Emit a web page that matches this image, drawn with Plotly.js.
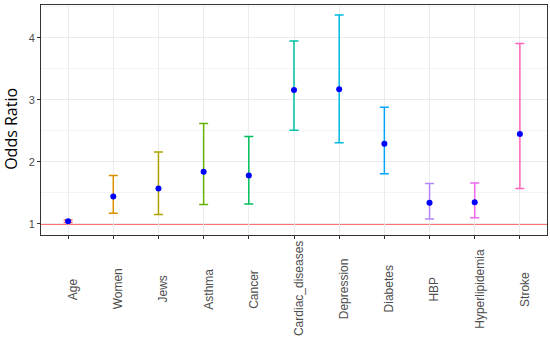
<!DOCTYPE html>
<html>
<head>
<meta charset="utf-8">
<script src="https://cdn.plot.ly/plotly-3.0.1.min.js"></script>
<style>html,body{margin:0;padding:0;background:#fff;}#chart{width:550px;height:340px;}</style>
</head>
<body>
<div id="chart"></div>
<script>
const categories = ["Age","Women","Jews","Asthma","Cancer","Cardiac_diseases","Depression","Diabetes","HBP","Hyperlipidemia","Stroke"];
const oddsRatio = [1.04, 1.44, 1.57, 1.84, 1.78, 3.16, 3.17, 2.29, 1.34, 1.35, 2.45];
const lowerCI  = [1.02, 1.17, 1.15, 1.31, 1.32, 2.51, 2.31, 1.81, 1.08, 1.10, 1.57];
const upperCI  = [1.06, 1.78, 2.16, 2.62, 2.41, 3.95, 4.37, 2.88, 1.65, 1.66, 3.91];
const yTicks = [1, 2, 3, 4];
const colors = ["#F8766D","#DB8E00","#AEA200","#64B200","#00BD5C","#00C1A7","#00BADE","#00A6FF","#B385FF","#EF67EB","#FF63B6"];

const traces = categories.map((c, i) => ({
  type: 'scatter', mode: 'markers',
  x: [c], y: [oddsRatio[i]],
  marker: {color: 'rgba(0,0,0,0)', size: 1},
  error_y: {type: 'data', symmetric: false,
    array: [upperCI[i] - oddsRatio[i]], arrayminus: [oddsRatio[i] - lowerCI[i]],
    color: colors[i], thickness: 1.5, width: 4.5},
  showlegend: false, hoverinfo: 'skip'
}));
traces.push({
  type: 'scatter', mode: 'markers', x: categories, y: oddsRatio,
  marker: {color: '#0000FF', size: 6}, showlegend: false
});

const annotations = categories.map(c => ({
  xref: 'x', x: c, yref: 'paper', y: -0.235,
  text: c, textangle: -90, showarrow: false,
  xanchor: 'center', yanchor: 'middle', xshift: 5,
  font: {size: 12, color: '#4D4D4D', family: 'Liberation Sans, Arial, sans-serif'}
}));
annotations.push({
  xref: 'paper', x: -0.058, yref: 'paper', y: 0.46,
  text: 'Odds Ratio', textangle: -90, showarrow: false,
  xanchor: 'center', yanchor: 'middle',
  font: {size: 16, color: '#000', family: 'Open Sans, sans-serif'}
});

const layout = {
  width: 550, height: 340,
  margin: {l: 41, r: 3, t: 5, b: 105},
  paper_bgcolor: '#fff', plot_bgcolor: '#fff',
  font: {family: 'Liberation Sans, Arial, sans-serif'},
  xaxis: {
    type: 'category', range: [-0.6, 10.6],
    showticklabels: false,
    showgrid: true, gridcolor: '#EBEBEB', gridwidth: 1,
    showline: true, mirror: true, linecolor: '#333333', linewidth: 1,
    ticks: 'outside', ticklen: 3, tickcolor: '#333333', zeroline: false
  },
  yaxis: {
    range: [0.82, 4.53], tickvals: yTicks, ticktext: yTicks.map(String),
    tickfont: {size: 11, color: '#4D4D4D'},
    showgrid: true, gridcolor: '#EBEBEB', gridwidth: 1,
    minor: {tickvals: [1.5, 2.5, 3.5, 4.5], showgrid: true, gridcolor: '#F4F4F4', gridwidth: 1, ticks: ''},
    showline: true, mirror: true, linecolor: '#333333', linewidth: 1,
    ticks: 'outside', ticklen: 3, tickcolor: '#333333', zeroline: false
  },
  annotations: annotations,
  shapes: [{type: 'line', xref: 'paper', x0: 0, x1: 1, yref: 'y', y0: 1, y1: 1,
    line: {color: '#FF4040', width: 1.6}, layer: 'between'}]
};
Plotly.newPlot('chart', traces, layout, {displayModeBar: false, staticPlot: true});
</script>
</body>
</html>
